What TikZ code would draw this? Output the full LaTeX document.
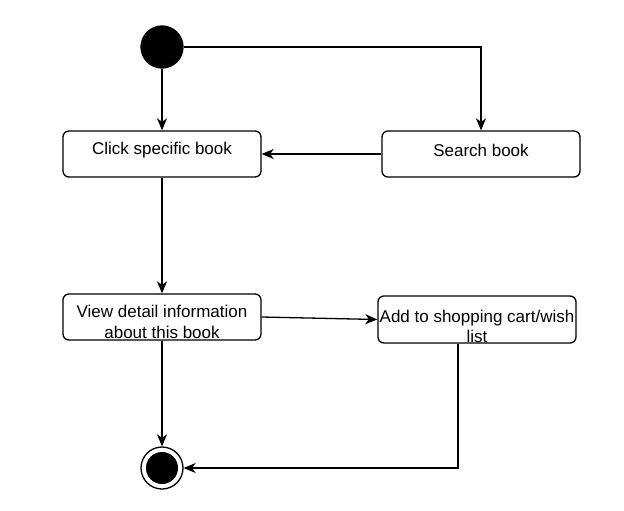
\documentclass[tikz,border=0pt]{standalone}
\usepackage{fontspec}
\setmainfont{Liberation Sans}
\usetikzlibrary{arrows.meta}
\tikzset{
  activity/.style={rectangle,rounded corners=6pt,draw,line width=1.3pt,fill=white,
    minimum width=198pt,minimum height=46pt,align=center,inner sep=0pt,
    font=\fontsize{17}{20}\selectfont},
  flow/.style={line width=1.3pt,-{Stealth[length=12pt,width=10pt,inset=3.5pt]}}
}
\begin{document}
\begin{tikzpicture}[x=1pt,y=-1pt,line width=1.3pt]
        \useasboundingbox (0,0) rectangle (624,511);
        \node (start) at (162,47) [circle,fill=black,draw,minimum size=42pt,inner sep=0pt]{};
        \node (click) at (162,154) [activity]{};
        \node (clicktxt) at (162,150) [font=\fontsize{17}{20}\selectfont]{Click specific book};
        \node (search) at (481,154) [activity]{};
        \node (searchtxt) at (481,150) [font=\fontsize{17}{20}\selectfont]{Search book};
        \node (view) at (162,317) [activity]{};
        \node (viewtxt) at (162,322) [font=\fontsize{17}{21}\selectfont,align=center]{View detail information\\about this book};
        \node (add) at (477,319.5) [activity,minimum height=47pt]{};
        \node (addtxt) at (477,326) [font=\fontsize{17}{20}\selectfont,align=center]{Add to shopping cart/wish\\list};
        \node (stop) at (162,468) [circle,draw,line width=1.3pt,minimum size=42pt,inner sep=0pt]{};
        \node (stopdot) at (162,468) [circle,fill=black,minimum size=32pt,inner sep=0pt]{};
        \draw[flow] (start) -- (click);
        \draw[flow] (start) -| (search);
        \draw[flow] (search) -- (click);
        \draw[flow] (click) -- (view);
        \draw[flow] (view.east) -- (add.west);
        \draw[flow] (view) -- (stop);
        \draw[flow] (add.south -| 458,0) |- (stop);
\end{tikzpicture}
\end{document}
